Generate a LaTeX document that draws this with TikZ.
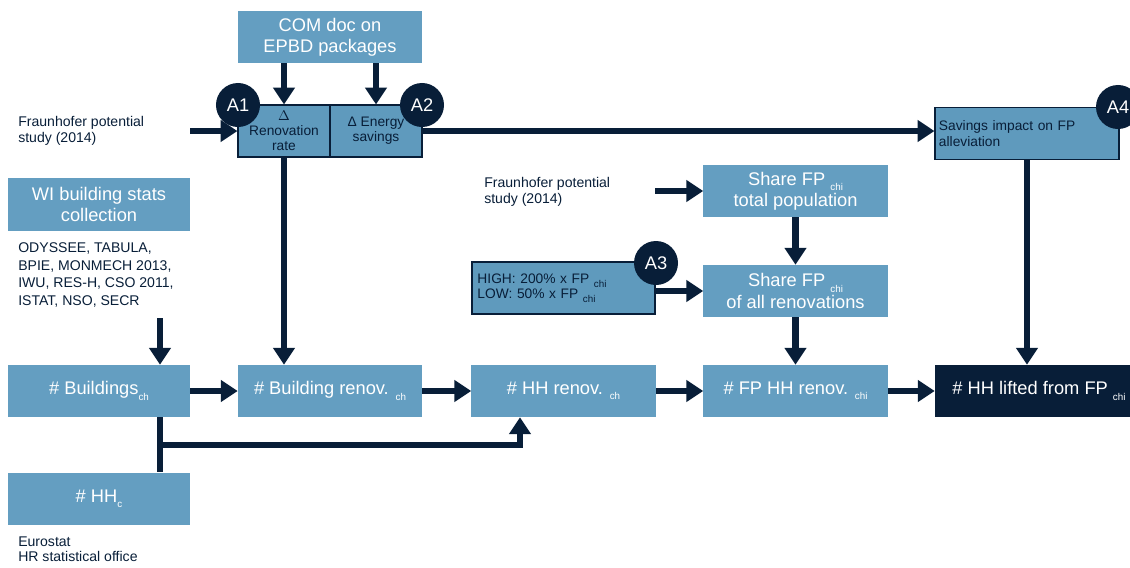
\documentclass[tikz,border=0pt]{standalone}
\usepackage{fontspec}
\setmainfont{Liberation Sans}
\usetikzlibrary{arrows.meta}

\definecolor{boxblue}{RGB}{100,158,193}
\definecolor{frameblue}{RGB}{95,154,189}
\definecolor{navy}{RGB}{8,30,56}

\newcommand{\lowidx}[1]{\raisebox{-0.55ex}{\fontsize{7}{7}\selectfont #1}}

\tikzset{
  bluebox/.style={fill=boxblue, text=white, minimum width=4.6cm, minimum height=1.3cm,
    align=center, inner sep=1pt, font=\fontsize{13}{15}\selectfont},
  framebox/.style={fill=frameblue, draw=navy, line width=0.8pt, text=navy,
    minimum height=1.3cm, inner sep=2pt, font=\fontsize{9.8}{10.8}\selectfont},
  note/.style={text=navy, anchor=west, align=left, inner sep=0pt,
    font=\fontsize{10}{11}\selectfont},
  badge/.style={circle, fill=navy, text=white, minimum size=1.1cm, inner sep=0pt,
    font=\fontsize{13}{15}\selectfont},
  flow/.style={navy, line width=4.5pt, -{Triangle[width=15pt,length=12pt]}},
  link/.style={navy, line width=4.5pt},
}

\begin{document}
\begin{tikzpicture}[x=0.025cm, y=-0.025cm]
\useasboundingbox (0,0) rectangle (1130,567);

% top block: renovation rate and energy savings
\node[bluebox] (com) at (330,37) {COM doc on\\EPBD packages};
\node[framebox, minimum width=2.3cm, align=center] (renrate) at (284,131) {$\Delta$\\Renovation\\rate};
\node[framebox, minimum width=2.3cm, align=center] (ensav) at (376,131) {Δ Energy\\savings};
\node[note] (fraunA) at (18,131) {Fraunhofer potential\\study (2014)};
\coordinate (fraunAout) at (190,131);

% left column: stats
\node[bluebox, minimum width=4.55cm] (wi) at (99,204.5) {WI building stats\\collection};
\node[note, font=\fontsize{10}{12.5}\selectfont] (odys) at (18,275) {ODYSSEE, TABULA,\\BPIE, MONMECH 2013,\\IWU, RES-H, CSO 2011,\\ISTAT, NSO, SECR};
\coordinate (odysout) at (160,318);
\node[bluebox, minimum width=4.55cm] (bld) at (99,391) {\# Buildings\lowidx{ch}};
\node[bluebox, minimum width=4.55cm] (hhc) at (99,498.5) {\# HH\lowidx{c}};
\node[note] (euro) at (18,549) {Eurostat\\HR statistical office};

% main row
\node[bluebox] (bren) at (330,391) {\# Building renov. \lowidx{ch}};
\node[bluebox] (hhren) at (563.5,391) {\# HH renov. \lowidx{ch}};
\node[bluebox] (fphh) at (795.5,391) {\# FP HH renov. \lowidx{chi}};
\node[bluebox, fill=navy, minimum width=5.2cm] (lifted) at (1039,391) {\# HH lifted from FP \lowidx{chi}};

% fuel poverty shares
\node[note] (fraunB) at (484,192) {Fraunhofer potential\\study (2014)};
\coordinate (fraunBout) at (655,191);
\node[bluebox] (sharetot) at (795.5,191) {Share FP \lowidx{chi}\\total population};
\node[bluebox] (sharerenov) at (795.5,291) {Share FP \lowidx{chi}\\of all renovations};
\node[framebox, minimum width=4.575cm, text width=4.3cm, align=left] (highlow) at (563.5,288)
  {HIGH: 200\% x FP \lowidx{chi}\\LOW: 50\% x FP \lowidx{chi}};
\node[framebox, minimum width=4.6cm, text width=4.4cm, align=left] (savings) at (1027,133.5)
  {Savings impact on FP\\alleviation\\[4pt]};

% connectors
\draw[flow] (com.south -| renrate.north) -- (renrate.north);
\draw[flow] (com.south -| ensav.north) -- (ensav.north);
\draw[flow] (fraunAout) -- (renrate.west);
\draw[flow] (ensav.east) -- (ensav.east -| savings.west);
\draw[flow] (renrate.south) -- (renrate.south |- bren.north);
\draw[flow] (odysout) -- (odysout |- bld.north);
\draw[flow] (bld.east) -- (bren.west);
\draw[flow] (bren.east) -- (hhren.west);
\draw[flow] (hhren.east) -- (fphh.west);
\draw[flow] (fphh.east) -- (lifted.west);
\coordinate (bend) at (520,445);
\draw[flow] (odysout |- bld.south) |- (bend) -- (bend |- hhren.south);
\draw[link] (odysout |- bld.south) -- (odysout |- hhc.north);
\draw[flow] (fraunBout) -- (fraunBout -| sharetot.west);
\draw[flow] (sharetot.south) -- (sharerenov.north);
\draw[flow] (sharerenov.south) -- (fphh.north);
\draw[flow] (highlow.east |- sharerenov.west) -- (sharerenov.west);
\draw[flow] (savings.south) -- (savings.south |- lifted.north);

% assumption badges
\node[badge] (A1) at (238,105) {A1};
\node[badge] (A2) at (422,105) {A2};
\node[badge] (A3) at (656,263) {A3};
\node[badge] (A4) at (1118,107) {A4};
\end{tikzpicture}
\end{document}
